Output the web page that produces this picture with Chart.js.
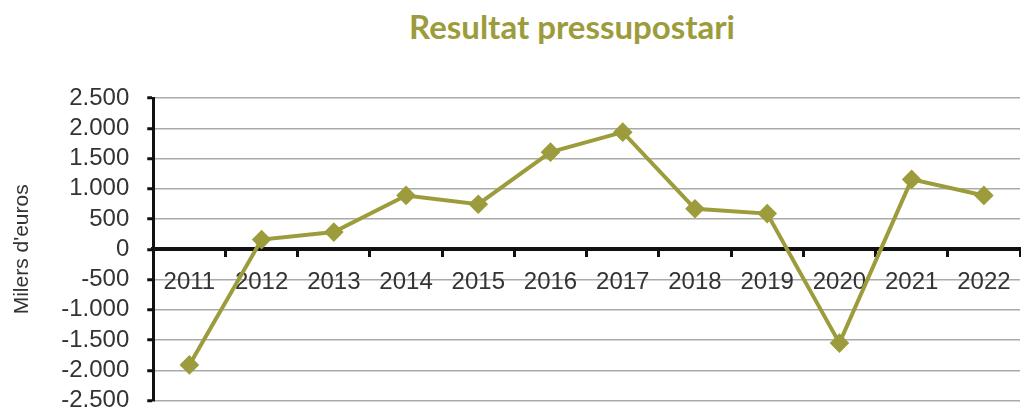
<!DOCTYPE html>
<html>
<head>
<meta charset="utf-8">
<script src="https://cdn.jsdelivr.net/npm/chart.js@4.4.0/dist/chart.umd.min.js"></script>
<style>
  html, body { margin: 0; padding: 0; background: #fff; overflow: hidden; }
  #wrap { position: relative; width: 1021px; height: 410px; overflow: hidden; }
  #title {
    position: absolute; left: 0; top: 6px; width: 1144px; text-align: center;
    font-family: Lato, sans-serif; font-weight: bold; font-size: 33px; color: #9c9c3c;
  }
  #box { position: absolute; left: 0; top: 0; width: 1031px; height: 433px; }
</style>
</head>
<body>
<div id="wrap">
  <div id="title">Resultat pressupostari</div>
  <div id="box"><canvas id="chart"></canvas></div>
</div>
<script>
const years = ['2011', '2012', '2013', '2014', '2015', '2016', '2017', '2018', '2019', '2020', '2021', '2022'];
const result = [-1910, 160, 285, 890, 745, 1605, 1935, 670, 590, -1550, 1155, 890];
const yMin = -2500;
const yMax = 2500;
const yStep = 500;

const olive = '#9c9c3c';
const axisFont = { family: "'Liberation Sans', Arial, sans-serif", size: 24 };

function fmtThousands(v) {
  const s = Math.abs(v).toString().replace(/\B(?=(\d{3})+(?!\d))/g, '.');
  return (v < 0 ? '-' : '') + s;
}

const ctx = document.getElementById('chart').getContext('2d');
const chart = new Chart(ctx, {
  type: 'line',
  data: {
    labels: years,
    datasets: [{
      data: result,
      borderColor: olive,
      backgroundColor: olive,
      borderWidth: 4,
      pointStyle: 'rectRot',
      pointRadius: 7,
      pointHoverRadius: 7,
      tension: 0,
    }],
  },
  options: {
    responsive: true,
    maintainAspectRatio: false,
    animation: false,
    layout: { padding: { top: 98, right: 0, bottom: 0, left: 10 } },
    plugins: {
      legend: { display: false },
      tooltip: { enabled: false },
    },
    scales: {
      x: {
        position: { y: 0 },
        offset: true,
        grid: {
          offset: true,
          drawOnChartArea: false,
          drawTicks: true,
          tickLength: 6,
          tickWidth: 3,
          tickColor: '#111',
        },
        border: { display: true, color: '#111', width: 4 },
        ticks: { color: '#333', font: axisFont, padding: 13, maxRotation: 0, autoSkip: false },
      },
      y: {
        min: yMin,
        max: yMax,
        ticks: {
          stepSize: yStep,
          color: '#333',
          font: axisFont,
          padding: 18,
          callback: (v) => fmtThousands(v),
        },
        grid: {
          color: '#aaaaaa',
          lineWidth: 1.5,
          tickLength: 6,
          tickColor: '#111',
          tickWidth: 3,
        },
        border: { display: true, color: '#111', width: 3 },
        title: {
          display: true,
          text: "Milers d'euros",
          color: '#333',
          font: { family: "'Liberation Sans', Arial, sans-serif", size: 21 },
          padding: { top: 0, bottom: 8 },
        },
      },
    },
  },
});
</script>
</body>
</html>
